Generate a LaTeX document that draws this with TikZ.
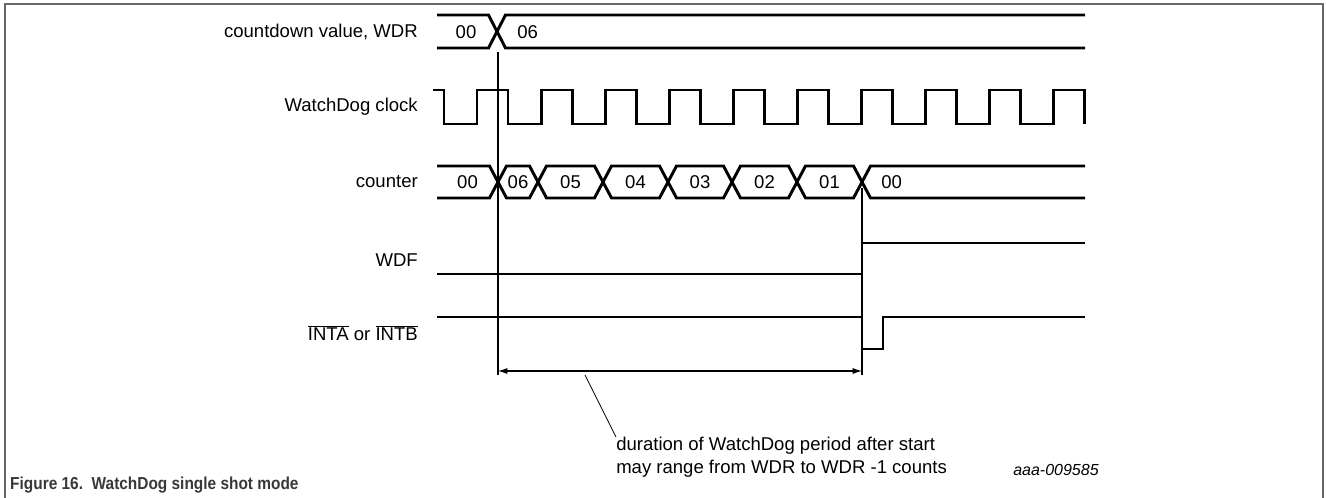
\documentclass[tikz,border=0pt]{standalone}
\usepackage{fontspec}
\setmainfont{Liberation Sans}
\usetikzlibrary{arrows.meta}
\newcommand\mybus[4]{% left, right, top, bottom
  \draw[sig] (#1,{(#3+#4)/2}) -- ({#1+8.5},#3) -- ({#2-8.5},#3) -- (#2,{(#3+#4)/2}) -- ({#2-8.5},#4) -- ({#1+8.5},#4) -- cycle;}
\begin{document}
\begin{tikzpicture}[x=0.75pt,y=-0.75pt,
  sig/.style={line width=2.2pt, line join=miter},
  thinline/.style={line width=0.8pt},
  lbl/.style={anchor=east, inner sep=0pt, font=\fontsize{13.9}{16}\selectfont},
  val/.style={inner sep=0pt, font=\fontsize{13.9}{16}\selectfont},
  note/.style={inner sep=0pt, align=left, font=\fontsize{13.9}{17.3}\selectfont},
  framestyle/.style={draw=black!60, line width=1.5pt}]
\useasboundingbox (0,0) rectangle (1326,498);
% frame
\draw[framestyle] (5,498) -- (5,4) -- (1323,4) -- (1323,498);
% labels
\node[lbl] (lwdr) at (418,32) {countdown value, WDR};
\node[lbl] (lclk) at (418,107) {WatchDog clock};
\node[lbl] (lcnt) at (418,182) {counter};
\node[lbl] (lwdf) at (418,260) {WDF};
\node[lbl] (lint) at (418,333) {$\overline{\mbox{INTA}}$ or $\overline{\mbox{INTB}}$};
% WDR bus
\draw[sig] (437,15) -- (488.5,15) -- (497,31.5) -- (488.5,48) -- (437,48);
\draw[sig] (1085,15) -- (505.5,15) -- (497,31.5) -- (505.5,48) -- (1085,48);
\node[val] (w00) at (466,32) {00};
\node[val, anchor=west] (w06) at (517,32) {06};
% clock
\draw[sig] (433,90) -- (444,90) -- (444,124)
  \foreach \k in {0,...,9} { -- ({477+64.1*\k},124) -- ({477+64.1*\k},90) -- ({508+64.1*\k},90) -- ({508+64.1*\k},124) };
% counter bus
\draw[sig] (437,166) -- (489.5,166) -- (498,182) -- (489.5,198) -- (437,198);
\mybus{498}{538}{166}{198}
\mybus{538}{603}{166}{198}
\mybus{603}{668}{166}{198}
\mybus{668}{732}{166}{198}
\mybus{732}{797}{166}{198}
\mybus{797}{862}{166}{198}
\draw[sig] (1085,166) -- (870.5,166) -- (862,182) -- (870.5,198) -- (1085,198);
\node[val] (c00) at (467.5,182) {00};
\node[val] (c06) at (518,182) {06};
\node[val] (c05) at (570.5,182) {05};
\node[val] (c04) at (635.5,182) {04};
\node[val] (c03) at (700,182) {03};
\node[val] (c02) at (764.5,182) {02};
\node[val] (c01) at (829.5,182) {01};
\node[val, anchor=west] (c00b) at (881,182) {00};
% WDF
\draw[sig] (437,274) -- (862,274) -- (862,243) -- (1085,243);
% INTA
\draw[sig] (437,317) -- (862,317) -- (862,349) -- (883,349) -- (883,317) -- (1085,317);
% markers
\coordinate (m1t) at (498,52);
\coordinate (m1b) at (498,375);
\coordinate (m2t) at (862,188);
\coordinate (m2b) at (862,375);
\draw[thinline] (m1t) -- (m1b);
\draw[thinline] (m2t) -- (m2b);
\coordinate (a1) at (498,371);
\coordinate (a2) at (862,371);
\draw[thinline, {Latex[length=7pt,width=4.5pt]}-{Latex[length=7pt,width=4.5pt]}] (a1) -- (a2);
% note
\node[note, anchor=north west] (dur) at (616,437) {duration of WatchDog period after start\\may range from WDR to WDR -1 counts};
\coordinate (ls) at (585,375);
\draw[line width=0.6pt] (ls) -- (dur.north west);
\node[inner sep=0pt, anchor=west, font=\fontsize{12}{14}\itshape] (code) at (1013,470) {aaa-009585};
% caption
\node[inner sep=0pt, anchor=west, text=black!78, xscale=0.89, font=\fontsize{13}{16}\bfseries] (cap) at (10,485) {Figure 16.\ \ WatchDog single shot mode};
\end{tikzpicture}
\end{document}
